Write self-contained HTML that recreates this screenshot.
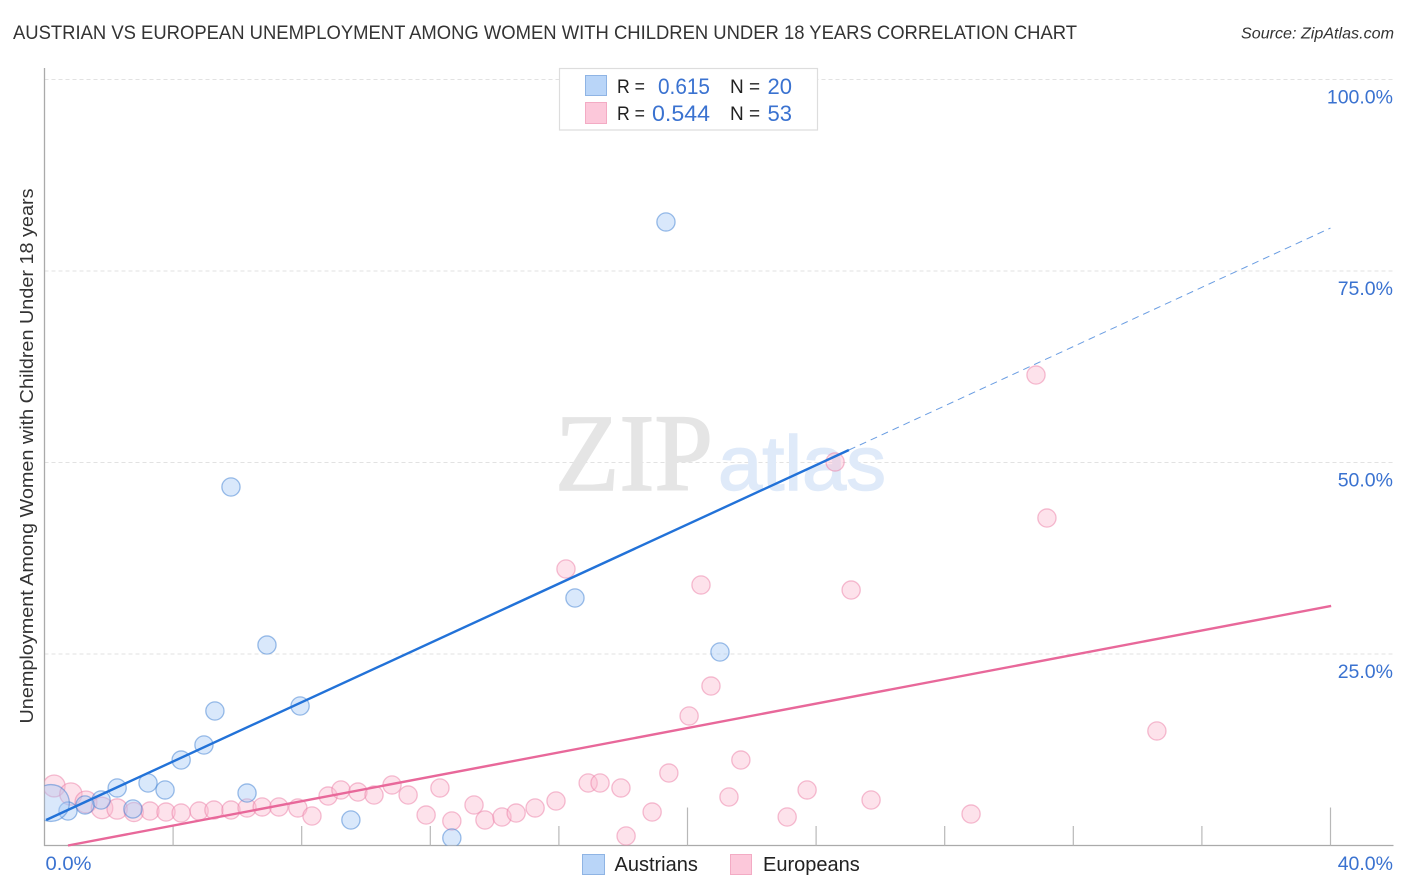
<!DOCTYPE html>
<html lang="en">
<head>
<meta charset="utf-8">
<title>Austrian vs European Unemployment Correlation Chart</title>
<style>
html,body{margin:0;padding:0;background:#fff;}
svg{display:block;font-family:"Liberation Sans",sans-serif;}
</style>
</head>
<body>
<svg id="chart" xmlns="http://www.w3.org/2000/svg" width="1406" height="892" viewBox="0 0 1406 892">
  <defs>
    <clipPath id="plot-clip"><rect x="44.5" y="60" width="1350" height="785.5"/></clipPath>
  </defs>
  <rect x="0" y="0" width="1406" height="892" fill="#ffffff"/>
  <text x="13" y="39" font-size="19.5" fill="#333333" textLength="1064" lengthAdjust="spacingAndGlyphs">AUSTRIAN VS EUROPEAN UNEMPLOYMENT AMONG WOMEN WITH CHILDREN UNDER 18 YEARS CORRELATION CHART</text>
  <text x="1394" y="38.5" font-size="16" font-style="italic" fill="#333333" text-anchor="end" textLength="153" lengthAdjust="spacingAndGlyphs">Source: ZipAtlas.com</text>
  <g id="grid"></g>
  <g>
    <text x="555" y="490" font-family="'Liberation Serif',serif" font-size="110" fill="#e5e5e5" stroke="#e5e5e5" stroke-width="1.6" textLength="158" lengthAdjust="spacingAndGlyphs">ZIP</text>
    <text x="718" y="490" font-size="77" fill="#dfeaf9" stroke="#dfeaf9" stroke-width="1.4" textLength="168" lengthAdjust="spacingAndGlyphs">atlas</text>
  </g>
  <g id="axes"></g>
  <g id="ticklabels"></g>
  <g id="points-europeans" clip-path="url(#plot-clip)"></g>
  <g id="points-austrians" clip-path="url(#plot-clip)"></g>
  <g id="trends"></g>
  <text transform="translate(33,456) rotate(-90)" font-size="18.5" fill="#333333" text-anchor="middle" textLength="535" lengthAdjust="spacingAndGlyphs">Unemployment Among Women with Children Under 18 years</text>
  <g>
    <rect x="559.5" y="68.5" width="258" height="61.5" fill="#ffffff" stroke="#dddddd" stroke-width="1.2"/>
    <rect x="585.5" y="75.5" width="21" height="20" fill="#b9d5f8" stroke="#8fb4e4" stroke-width="1"/>
    <rect x="585.5" y="102.5" width="21" height="21" fill="#fcc8da" stroke="#f3abc4" stroke-width="1"/>
    <text x="617" y="93" font-size="19" fill="#222222" textLength="28" lengthAdjust="spacingAndGlyphs">R =</text>
    <text x="658" y="94" font-size="22" fill="#3a72d0" textLength="52" lengthAdjust="spacingAndGlyphs">0.615</text>
    <text x="730" y="93" font-size="19" fill="#222222">N =</text>
    <text x="792" y="94" font-size="22" fill="#3a72d0" text-anchor="end">20</text>
    <text x="617" y="120" font-size="19" fill="#222222" textLength="28" lengthAdjust="spacingAndGlyphs">R =</text>
    <text x="652" y="121" font-size="22" fill="#3a72d0" textLength="58" lengthAdjust="spacingAndGlyphs">0.544</text>
    <text x="730" y="120" font-size="19" fill="#222222">N =</text>
    <text x="792" y="121" font-size="22" fill="#3a72d0" text-anchor="end">53</text>
  </g>
  <g>
    <rect x="582.5" y="854.5" width="22" height="20" fill="#b9d5f8" stroke="#8fb4e4" stroke-width="1"/>
    <text x="614.5" y="871" font-size="20" fill="#222222">Austrians</text>
    <rect x="730.5" y="854.5" width="21" height="20" fill="#fcc8da" stroke="#f3abc4" stroke-width="1"/>
    <text x="763" y="871" font-size="20" fill="#222222">Europeans</text>
  </g>
</svg>
<script>
// ---- chart data (percent units) ----
const austrianX = [19.33,5.80,16.50,6.92,21.01,5.30,7.95,4.96,4.25,2.26,3.22,3.75,6.30,9.53,12.67,1.76,1.26,2.75,0.73,0.20];
const austrianY = [81.40,46.80,32.31,26.17,25.26,17.56,18.21,13.12,11.16,7.51,8.16,7.25,6.85,3.33,0.98,5.94,5.29,4.77,4.50,5.55];
const austrianWeight = [1,1,1,1,1,1,1,1,1,1,1,1,1,1,1,1,1,1,1,4.1];
const europeanX = [0.30,0.82,1.29,1.79,2.26,2.78,3.28,3.78,4.25,4.81,5.27,5.80,6.30,6.77,7.29,7.88,8.32,8.82,9.22,9.75,10.25,10.81,11.31,11.87,12.30,12.67,13.36,13.70,14.23,14.67,15.26,15.91,16.91,17.28,17.93,18.90,18.09,19.42,21.29,21.66,20.05,23.10,23.72,25.71,28.82,34.60,30.84,24.59,31.18,16.22,20.42,25.09,20.73];
const europeanY = [7.77,6.72,5.68,4.90,4.77,4.37,4.50,4.37,4.24,4.50,4.63,4.63,4.90,5.03,5.03,4.90,3.85,6.46,7.25,6.98,6.59,7.90,6.59,3.98,7.51,3.20,5.29,3.33,3.72,4.24,4.90,5.81,8.16,8.16,7.51,4.37,1.24,9.46,6.33,11.16,16.91,3.72,7.25,5.94,4.11,14.95,61.42,50.07,42.75,36.10,34.01,33.35,20.82];
const europeanWeight = [1.45,1.5,1.45,1.4,1.25,1.1,1,1,1,1,1,1,1,1,1,1,1,1,1,1,1,1,1,1,1,1,1,1,1,1,1,1,1,1,1,1,1,1,1,1,1,1,1,1,1,1,1,1,1,1,1,1,1];
const austrianTrendX = [0.05,25.02];
const austrianTrendY = [3.33,51.63];
const austrianProjectionX = [25.02,40.0];
const austrianProjectionY = [51.63,80.61];
const europeanTrendX = [0.73,40.02];
const europeanTrendY = [0,31.27];
const yTicks = [25,50,75,100];
const yTickLabels = ['25.0%','50.0%','75.0%','100.0%'];
const xTicks = [4,8,12,16,20,24,28,32,36,40];
const xMajorTicks = [20,40];
const xEndLabels = ['0.0%','40.0%'];

// ---- axis functions ----
function xScale(v){ return 44.5 + v * 32.15; }
function yScale(v){ return 845.5 - v * 7.66; }

const NS = 'http://www.w3.org/2000/svg';
function make(tag, attrs, parent){
  const el = document.createElementNS(NS, tag);
  for (const k in attrs) el.setAttribute(k, attrs[k]);
  parent.appendChild(el);
  return el;
}
const grid = document.getElementById('grid');
const axes = document.getElementById('axes');
const labels = document.getElementById('ticklabels');

yTicks.forEach(function(t, i){
  const line = make('line', {x1:44.5, x2:1393, y1:yScale(t), y2:yScale(t), stroke:'#e2e2e2', 'stroke-width':1, 'stroke-dasharray':'4 3'}, grid);
  
  
  const lab = make('text', {x:1393, y:yScale(t)+24, 'font-size':19.5, fill:'#3a72d0', 'text-anchor':'end'}, labels);
  lab.textContent = yTickLabels[i];
  
  
});

const yAxis = make('line', {x1:44.5, x2:44.5, y1:68, y2:846, stroke:'#aaaaaa', 'stroke-width':1.3}, axes);


const xAxis = make('line', {x1:44, x2:1393.5, y1:845.5, y2:845.5, stroke:'#aaaaaa', 'stroke-width':1.3}, axes);


xTicks.forEach(function(t){
  const top = xMajorTicks.indexOf(t) >= 0 ? 807.5 : 826;
  const tick = make('line', {x1:xScale(t), x2:xScale(t), y1:top, y2:845.5, stroke:'#b8b8b8', 'stroke-width':1.2}, axes);
  
  
});
const x0 = make('text', {x:45.5, y:870, 'font-size':19.5, fill:'#3a72d0', textLength:46, lengthAdjust:'spacingAndGlyphs'}, labels);
x0.textContent = xEndLabels[0];


const x1 = make('text', {x:1393, y:870, 'font-size':19.5, fill:'#3a72d0', 'text-anchor':'end'}, labels);
x1.textContent = xEndLabels[1];



function radius(w){ return 9.1 * Math.sqrt(w); }

const pinkG = document.getElementById('points-europeans');
europeanX.forEach(function(v, i){
  const c = make('circle', {cx:xScale(v), cy:yScale(europeanY[i]), r:radius(europeanWeight[i]), fill:'rgba(250,185,208,0.42)', stroke:'rgba(236,125,165,0.5)', 'stroke-width':1.3}, pinkG);
  
  
});
const blueG = document.getElementById('points-austrians');
austrianX.forEach(function(v, i){
  const c = make('circle', {cx:xScale(v), cy:yScale(austrianY[i]), r:radius(austrianWeight[i]), fill:'rgba(165,200,245,0.42)', stroke:'rgba(60,125,210,0.5)', 'stroke-width':1.3}, blueG);
  
  
});

const trends = document.getElementById('trends');
const projection = make('line', {x1:xScale(austrianProjectionX[0]), y1:yScale(austrianProjectionY[0]), x2:xScale(austrianProjectionX[1]), y2:yScale(austrianProjectionY[1]), stroke:'#6a9de2', 'stroke-width':1, 'stroke-dasharray':'7 5'}, trends);


const blueLine = make('line', {x1:xScale(austrianTrendX[0]), y1:yScale(austrianTrendY[0]), x2:xScale(austrianTrendX[1]), y2:yScale(austrianTrendY[1]), stroke:'#2272d8', 'stroke-width':2.4}, trends);


const pinkLine = make('line', {x1:xScale(europeanTrendX[0]), y1:yScale(europeanTrendY[0]), x2:xScale(europeanTrendX[1]), y2:yScale(europeanTrendY[1]), stroke:'#e8689a', 'stroke-width':2.4}, trends);


</script>
</body>
</html>
